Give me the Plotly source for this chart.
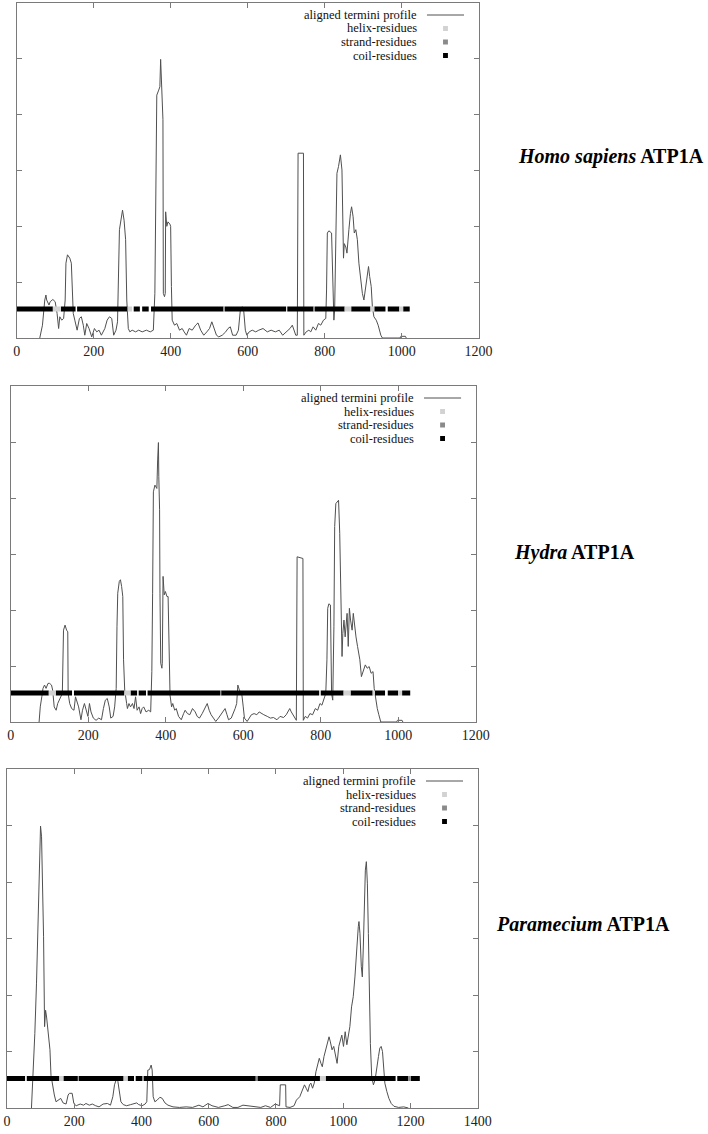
import plotly.graph_objects as go

# ---------------- data ----------------
X_TICKS_1200 = [0, 200, 400, 600, 800, 1000, 1200]
X_TICKS_1400 = [0, 200, 400, 600, 800, 1000, 1200, 1400]
Y_TICKS = [0, 1, 2, 3, 4, 5, 6]

SPECIES = ["Homo sapiens", "Hydra", "Paramecium"]
PROTEIN = "ATP1A"
LEGEND_LABELS = ["aligned termini profile", "helix-residues", "strand-residues", "coil-residues"]
RESIDUE_LEVEL = 0.52

# Homo sapiens profile
HS_X = [60, 67, 73, 76, 78, 84, 87, 94, 100, 105, 109, 112, 117, 122, 126, 128, 132, 138, 142, 144, 147, 151, 157, 163,
        168, 173, 177, 182, 188, 195, 202, 208, 214, 220, 229, 235, 241, 247, 252, 258, 262, 267, 271, 275, 279, 283,
        286, 290, 294, 300, 309, 317, 326, 337, 347, 355, 359, 362, 364, 369, 372, 374, 376, 378, 380, 381, 384, 386,
        387, 390, 393, 398, 400, 402, 404, 410, 416, 423, 430, 435, 441, 448, 456, 465, 471, 478, 486, 494, 501, 507,
        513, 519, 525, 534, 543, 549, 555, 561, 570, 576, 581, 586, 590, 594, 598, 604, 612, 621, 629, 640, 651, 661,
        672, 682, 691, 701, 710, 716, 720, 725, 729, 731, 745, 746, 752, 759, 764, 770, 777, 784, 790, 797, 803, 805,
        807, 811, 818, 821, 824, 826, 830, 832, 836, 841, 845, 847, 849, 851, 855, 858, 860, 863, 867, 870, 874, 877,
        881, 885, 889, 894, 898, 902, 906, 910, 914, 917, 921, 924, 928, 934, 939, 946, 950, 996, 998, 1010, 1012]
HS_Y = [0.0, 0.23, 0.68, 0.77, 0.68, 0.59, 0.65, 0.69, 0.65, 0.44, 0.17, 0.38, 0.32, 0.35, 0.68, 1.34, 1.49, 1.43, 1.34,
        0.98, 0.44, 0.32, 0.14, 0.35, 0.38, 0.23, 0.05, 0.26, 0.17, 0.02, 0.17, 0.11, 0.14, 0.05, 0.17, 0.32, 0.38,
        0.35, 0.05, 0.14, 0.29, 1.94, 2.11, 2.29, 2.11, 1.76, 0.68, 0.17, 0.11, 0.14, 0.11, 0.14, 0.11, 0.14, 0.11,
        0.14, 0.80, 3.43, 4.35, 4.44, 4.50, 4.99, 4.56, 4.44, 3.91, 0.80, 0.74, 0.80, 2.26, 2.00, 2.08, 2.04, 2.00,
        0.92, 0.32, 0.23, 0.26, 0.14, 0.17, 0.11, 0.05, 0.17, 0.14, 0.23, 0.27, 0.14, 0.05, 0.11, 0.17, 0.29, 0.17,
        0.05, 0.02, 0.05, 0.11, 0.17, 0.20, 0.05, 0.05, 0.14, 0.50, 0.56, 0.47, 0.14, 0.05, 0.11, 0.14, 0.11, 0.14,
        0.17, 0.11, 0.14, 0.11, 0.14, 0.05, 0.11, 0.17, 0.23, 0.14, 0.05, 0.05, 3.31, 3.31, 0.05, 0.11, 0.14, 0.11,
        0.20, 0.14, 0.26, 0.23, 0.32, 0.35, 0.86, 1.88, 1.92, 1.88, 1.28, 0.32, 0.50, 1.88, 2.95, 3.07, 3.28, 3.01,
        1.88, 1.43, 1.69, 1.63, 1.52, 1.76, 1.94, 2.23, 2.35, 2.17, 1.88, 1.94, 1.76, 1.34, 1.04, 0.80, 0.68, 0.86,
        1.04, 1.28, 1.10, 0.92, 0.56, 0.38, 0.32, 0.23, 0.05, 0.0, 0.0, 0.03, 0.03, 0.0]

# Hydra profile
HY_X = [73, 76, 80, 83, 87, 91, 96, 100, 105, 108, 112, 117, 121, 125, 130, 133, 136, 140, 144, 147, 148, 152, 157, 163,
        167, 171, 175, 181, 185, 190, 194, 199, 203, 207, 213, 220, 227, 234, 239, 244, 249, 254, 258, 264, 268, 272,
        274, 276, 280, 283, 286, 289, 291, 294, 299, 301, 305, 309, 314, 318, 322, 326, 331, 335, 339, 343, 349, 356,
        361, 364, 366, 368, 372, 377, 379, 381, 382, 384, 385, 387, 390, 391, 393, 396, 399, 403, 406, 408, 411, 415,
        418, 423, 427, 433, 440, 446, 450, 456, 462, 469, 476, 481, 487, 494, 501, 507, 512, 517, 523, 529, 536, 543,
        549, 553, 558, 562, 569, 574, 579, 583, 586, 590, 593, 596, 600, 603, 610, 616, 621, 628, 635, 641, 647, 653,
        662, 670, 678, 687, 695, 704, 711, 716, 720, 724, 729, 733, 737, 739, 754, 755, 760, 766, 772, 779, 786, 792,
        798, 803, 808, 813, 816, 818, 821, 825, 828, 831, 834, 836, 839, 843, 846, 849, 851, 855, 857, 860, 863, 866,
        868, 871, 874, 877, 881, 884, 887, 891, 895, 901, 905, 910, 915, 920, 925, 930, 935, 938, 942, 946, 950, 955,
        996, 998, 1010, 1012]
HY_Y = [0.0, 0.27, 0.45, 0.60, 0.66, 0.60, 0.69, 0.69, 0.66, 0.57, 0.27, 0.21, 0.33, 0.39, 0.45, 0.51, 1.64, 1.73, 1.64,
        1.61, 0.51, 0.33, 0.24, 0.21, 0.45, 0.36, 0.27, 0.04, 0.21, 0.33, 0.21, 0.10, 0.33, 0.18, 0.07, 0.03, 0.07,
        0.04, 0.24, 0.39, 0.42, 0.27, 0.07, 0.10, 0.27, 0.60, 1.70, 2.30, 2.51, 2.54, 2.42, 2.24, 1.11, 0.57, 0.33,
        0.24, 0.33, 0.27, 0.33, 0.24, 0.45, 0.21, 0.27, 0.15, 0.24, 0.27, 0.18, 0.21, 0.18, 0.90, 2.30, 4.11, 4.23,
        4.17, 4.68, 4.99, 4.38, 3.79, 2.30, 1.05, 0.96, 1.05, 2.60, 2.27, 2.33, 2.24, 2.24, 1.11, 0.48, 0.27, 0.33,
        0.21, 0.24, 0.10, 0.04, 0.15, 0.21, 0.15, 0.13, 0.24, 0.18, 0.10, 0.07, 0.15, 0.24, 0.33, 0.21, 0.13, 0.07,
        0.01, 0.07, 0.15, 0.21, 0.24, 0.13, 0.04, 0.07, 0.15, 0.24, 0.33, 0.66, 0.57, 0.54, 0.51, 0.27, 0.07, 0.01,
        0.07, 0.13, 0.15, 0.13, 0.18, 0.15, 0.13, 0.10, 0.07, 0.08, 0.04, 0.10, 0.08, 0.13, 0.18, 0.24, 0.18, 0.13,
        0.07, 0.03, 2.95, 2.92, 0.03, 0.10, 0.07, 0.15, 0.13, 0.24, 0.21, 0.33, 0.30, 0.42, 0.51, 1.11, 2.03, 2.11,
        2.09, 0.51, 0.39, 1.70, 3.49, 3.90, 3.93, 3.96, 3.37, 2.30, 1.17, 1.58, 1.82, 1.52, 1.76, 1.94, 1.35, 2.03,
        1.82, 1.64, 1.94, 1.70, 1.52, 1.35, 1.11, 0.81, 0.93, 1.02, 0.96, 0.99, 0.87, 0.90, 0.60, 0.39, 0.24, 0.13,
        0.0, 0.0, 0.03, 0.03, 0.0]

# Paramecium profile
PA_X = [73, 78, 83, 88, 92, 95, 98, 100, 103, 106, 109, 112, 115, 118, 123, 128, 131, 136, 141, 146, 154, 160, 167, 176,
        182, 186, 194, 199, 206, 218, 228, 235, 245, 254, 264, 274, 286, 299, 308, 315, 320, 325, 330, 334, 339, 346,
        356, 368, 378, 386, 392, 402, 411, 416, 419, 424, 429, 432, 435, 440, 447, 455, 462, 470, 479, 494, 513, 533,
        552, 571, 583, 598, 610, 629, 648, 658, 672, 687, 702, 716, 735, 755, 769, 784, 798, 811, 813, 829, 830, 842,
        854, 861, 871, 878, 885, 890, 895, 900, 904, 909, 914, 919, 924, 929, 934, 938, 943, 948, 953, 958, 962, 967,
        972, 977, 982, 987, 991, 996, 1001, 1006, 1011, 1016, 1020, 1025, 1030, 1035, 1040, 1045, 1047, 1050, 1054,
        1057, 1060, 1063, 1066, 1069, 1072, 1075, 1078, 1081, 1085, 1090, 1095, 1100, 1105, 1109, 1113, 1117, 1120,
        1124, 1130, 1136, 1143, 1151, 1165, 1180, 1194]
PA_Y = [0.0, 0.55, 1.32, 2.21, 3.27, 4.09, 4.86, 4.99, 4.80, 4.09, 3.03, 1.44, 1.73, 1.61, 1.32, 1.03, 0.58, 0.38, 0.23,
        0.11, 0.15, 0.17, 0.09, 0.07, 0.23, 0.26, 0.26, 0.08, 0.04, 0.07, 0.05, 0.08, 0.05, 0.07, 0.04, 0.02, 0.07,
        0.08, 0.05, 0.20, 0.41, 0.50, 0.47, 0.26, 0.11, 0.06, 0.04, 0.06, 0.07, 0.09, 0.06, 0.04, 0.07, 0.11, 0.67,
        0.68, 0.76, 0.67, 0.20, 0.11, 0.14, 0.19, 0.17, 0.09, 0.05, 0.02, 0.01, 0.02, 0.01, 0.05, 0.02, 0.08, 0.04,
        0.01, 0.04, 0.06, 0.01, 0.01, 0.05, 0.04, 0.02, 0.01, 0.04, 0.01, 0.07, 0.04, 0.41, 0.41, 0.02, 0.01, 0.04,
        0.14, 0.20, 0.29, 0.41, 0.35, 0.29, 0.41, 0.44, 0.35, 0.44, 0.64, 0.79, 0.88, 0.79, 0.73, 0.91, 1.03, 1.14,
        1.26, 1.17, 1.03, 1.09, 0.91, 0.79, 1.09, 1.17, 1.29, 1.09, 1.35, 1.12, 1.29, 1.44, 1.79, 1.97, 2.32, 2.85,
        3.21, 3.30, 3.09, 2.50, 2.32, 2.85, 3.50, 4.21, 4.36, 3.98, 3.09, 2.03, 1.14, 0.55, 0.41, 0.50, 0.67, 0.91,
        1.06, 1.09, 1.00, 0.73, 0.44, 0.29, 0.17, 0.08, 0.03, 0.01, 0.02, 0.0]

# secondary-structure residue runs: (start, end, class)
HS_RUNS = [(0, 94, "coil"), (94, 115, "helix"), (115, 153, "coil"), (157, 288, "coil"), (288, 300, "helix"),
           (304, 320, "coil"), (326, 343, "coil"), (349, 537, "coil"), (537, 541, "strand"), (541, 700, "coil"),
           (703, 771, "coil"), (771, 775, "strand"), (775, 852, "coil"), (852, 869, "helix"), (869, 919, "coil"),
           (919, 929, "helix"), (929, 958, "coil"), (964, 994, "coil"), (994, 1004, "helix"), (1004, 1021, "coil")]
HY_RUNS = [(0, 98, "coil"), (98, 116, "helix"), (116, 158, "coil"), (163, 293, "coil"), (293, 309, "helix"),
           (309, 326, "coil"), (330, 349, "coil"), (353, 540, "coil"), (540, 543, "strand"), (543, 796, "coil"),
           (800, 859, "coil"), (859, 877, "helix"), (877, 934, "coil"), (934, 940, "helix"), (940, 966, "coil"),
           (973, 1000, "coil"), (1000, 1010, "helix"), (1010, 1031, "coil")]
PA_RUNS = [(0, 54, "coil"), (59, 156, "coil"), (156, 168, "helix"), (168, 211, "coil"), (211, 214, "strand"),
           (214, 347, "coil"), (347, 359, "helix"), (359, 378, "coil"), (383, 402, "coil"), (402, 407, "strand"),
           (407, 740, "coil"), (740, 745, "strand"), (745, 931, "coil"), (931, 948, "helix"), (948, 1156, "coil"),
           (1161, 1194, "coil"), (1194, 1201, "strand"), (1201, 1228, "coil")]

# ---------------- styling / layout ----------------
W, H = 708, 1134
FRAME = "#7a7a7a"
LINE_COLOR = "#505050"
CLASS_COLORS = {"helix": "#d2d2d2", "strand": "#8a8a8a", "coil": "#000000"}
SERIF = "Liberation Serif, Times New Roman, serif"

# pixel boxes of the three plot frames: left, right, top, bottom
PANELS = [
    dict(box=(13, 487, 3, 338), xticks=X_TICKS_1200, x=HS_X, y=HS_Y, runs=HS_RUNS, label_x=525, label_y=157),
    dict(box=(7, 484, 386, 722), xticks=X_TICKS_1200, x=HY_X, y=HY_Y, runs=HY_RUNS, label_x=521, label_y=552),
    dict(box=(3, 486, 769, 1108), xticks=X_TICKS_1400, x=PA_X, y=PA_Y, runs=PA_RUNS, label_x=503, label_y=924),
]


def fx(p):
    return p / W


def fy(p):
    return 1 - p / H


fig = go.Figure()
annotations = []
shapes = []

for i, (panel, species) in enumerate(zip(PANELS, SPECIES)):
    n = "" if i == 0 else str(i + 1)
    xa, ya = "x" + n, "y" + n
    l, r, t, b = panel["box"]

    fig.add_trace(go.Scatter(x=panel["x"], y=panel["y"], mode="lines", xaxis=xa, yaxis=ya,
                             line=dict(color=LINE_COLOR, width=1), name=LEGEND_LABELS[0],
                             showlegend=False, hoverinfo="skip"))
    for cls in ["coil", "helix", "strand"]:
        xs, ys = [], []
        for s, e, c in panel["runs"]:
            if c == cls:
                xs += [s, e, None]
                ys += [RESIDUE_LEVEL, RESIDUE_LEVEL, None]
        if xs:
            fig.add_trace(go.Scatter(x=xs, y=ys, mode="lines", xaxis=xa, yaxis=ya,
                                     line=dict(color=CLASS_COLORS[cls], width=5),
                                     name=cls + "-residues", showlegend=False, hoverinfo="skip"))

    axis_common = dict(showgrid=False, zeroline=False, showline=True, linecolor=FRAME, linewidth=1,
                       mirror="ticks", ticks="inside", ticklen=5, tickcolor=FRAME, tickwidth=1)
    fig.update_layout(**{
        "xaxis" + n: dict(domain=[fx(l), fx(r)], range=[0, panel["xticks"][-1]], tickvals=panel["xticks"],
                          ticktext=[str(v) for v in panel["xticks"]], anchor=ya,
                          tickfont=dict(family=SERIF, size=14, color="#222222"), **axis_common),
        "yaxis" + n: dict(domain=[fy(b), fy(t)], range=[0, 6], tickvals=Y_TICKS, showticklabels=False,
                          anchor=xa, **axis_common),
    })

    # gnuplot-style key (text right aligned, sample on the right)
    rows = [t + 12, t + 25.5, t + 39, t + 52.5]
    for j, (lab, ry) in enumerate(zip(LEGEND_LABELS, rows)):
        annotations.append(dict(xref="paper", yref="paper", x=fx(r - 61), y=fy(ry), text=lab,
                                xanchor="right", yanchor="middle", showarrow=False,
                                font=dict(family=SERIF, size=12.5, color="#111111")))
    shapes.append(dict(type="line", xref="paper", yref="paper", x0=fx(r - 53), x1=fx(r - 15),
                       y0=fy(rows[0]), y1=fy(rows[0]), line=dict(color=LINE_COLOR, width=1)))
    for cls, ry in zip(["helix", "strand", "coil"], rows[1:]):
        cx = r - 34
        shapes.append(dict(type="rect", xref="paper", yref="paper", x0=fx(cx - 2.5), x1=fx(cx + 2.5),
                           y0=fy(ry + 2.5), y1=fy(ry - 2.5), fillcolor=CLASS_COLORS[cls],
                           line=dict(width=0)))

    annotations.append(dict(xref="paper", yref="paper", x=fx(panel["label_x"]), y=fy(panel["label_y"]),
                            text="<b><i>" + species + "</i> " + PROTEIN + "</b>",
                            xanchor="left", yanchor="middle", showarrow=False,
                            font=dict(family=SERIF, size=20, color="#000000")))

fig.update_layout(width=W, height=H, margin=dict(l=0, r=0, t=0, b=0),
                  paper_bgcolor="white", plot_bgcolor="white", showlegend=False,
                  annotations=annotations, shapes=shapes)

# remove the browser's default page margin so the figure sits at the window's corner
fig.write_html("out.html", config={"displayModeBar": False},
               post_script="document.body.style.margin='0px';")
